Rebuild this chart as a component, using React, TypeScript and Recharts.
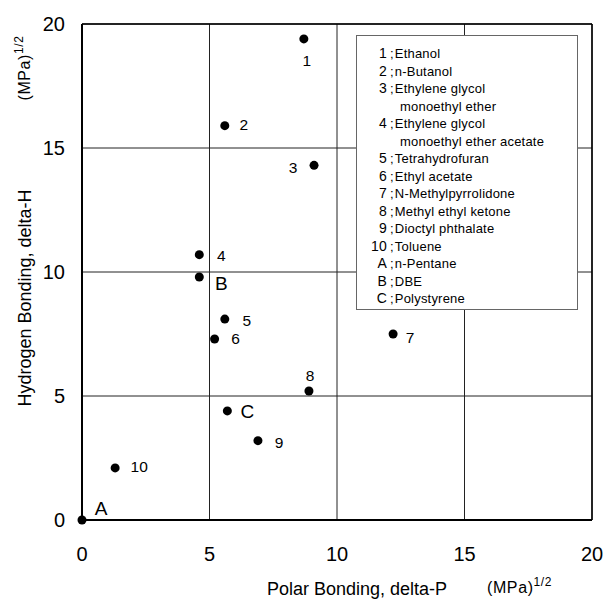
import React from 'react';
import { ScatterChart, Scatter, XAxis, YAxis, CartesianGrid, ReferenceLine, Legend, Label } from 'recharts';

// ---- data ----
const pointLabels = ['1', '2', '3', '4', 'B', '5', '6', '7', '8', 'C', '9', '10', 'A'];
const polarValues = [8.7, 5.6, 9.1, 4.6, 4.6, 5.6, 5.2, 12.2, 8.9, 5.7, 6.9, 1.3, 0];
const hydrogenValues = [19.4, 15.9, 14.3, 10.7, 9.8, 8.1, 7.3, 7.5, 5.2, 4.4, 3.2, 2.1, 0];
const axisTicks = [0, 5, 10, 15, 20];
const legendKeys = ['1', '2', '3', '4', '5', '6', '7', '8', '9', '10', 'A', 'B', 'C'];
const legendNames = [
  'Ethanol',
  'n-Butanol',
  'Ethylene glycol\nmonoethyl ether',
  'Ethylene glycol\nmonoethyl ether acetate',
  'Tetrahydrofuran',
  'Ethyl acetate',
  'N-Methylpyrrolidone',
  'Methyl ethyl ketone',
  'Dioctyl phthalate',
  'Toluene',
  'n-Pentane',
  'DBE',
  'Polystyrene',
];
const xAxisTitle = 'Polar Bonding, delta-P';
const yAxisTitle = 'Hydrogen Bonding, delta-H';
const unitBase = '(MPa)';
const unitSup = '1/2';

const points = pointLabels.map((label, i) => ({ label, x: polarValues[i], y: hydrogenValues[i] }));

// ---- styling ----
const FONT = '"Liberation Sans", Arial, sans-serif';
const labelPlacement: Record<string, { dx: number; dy: number }> = {
  '1': { dx: 3, dy: 22 },
  '2': { dx: 19, dy: -1 },
  '3': { dx: -21, dy: 2 },
  '4': { dx: 22, dy: 1 },
  B: { dx: 22, dy: 7 },
  '5': { dx: 22, dy: 1 },
  '6': { dx: 21, dy: 0 },
  '7': { dx: 17, dy: 3 },
  '8': { dx: 1, dy: -16 },
  C: { dx: 20, dy: 1 },
  '9': { dx: 21, dy: 2 },
  '10': { dx: 24, dy: -1 },
  A: { dx: 19, dy: -12 },
};

const PointShape = (props: any) => {
  const { cx, cy, payload } = props;
  const p = labelPlacement[payload.label] || { dx: 15, dy: 0 };
  const big = /^[A-C]$/.test(payload.label);
  return (
    <g>
      <circle cx={cx} cy={cy} r={4.5} fill="#000" />
      <text
        x={cx + p.dx}
        y={cy + p.dy}
        textAnchor="middle"
        dominantBaseline="central"
        fontSize={big ? 19 : 15.5}
        fontFamily={FONT}
        fill="#000"
      >
        {payload.label}
      </text>
    </g>
  );
};

const XTitle = (props: any) => {
  const vb = props.viewBox || { x: 82, y: 520, width: 510, height: 40 };
  const cx = vb.x + vb.width / 2 + 20;
  const base = vb.y + 75;
  return (
    <g fontFamily={FONT} fill="#000">
      <text x={cx} y={base} textAnchor="middle" fontSize={18}>
        {xAxisTitle}
      </text>
      <text x={vb.x + 405} y={base - 2} fontSize={16} letterSpacing={0.6}>
        {unitBase}
        <tspan fontSize={12} dy={-7}>{unitSup}</tspan>
      </text>
    </g>
  );
};

const YTitle = () => {
  const x = 25;
  const y = 298;
  const ux = 25;
  const uy = 68;
  return (
    <g fontFamily={FONT} fill="#000">
      <text
        x={x}
        y={y}
        textAnchor="middle"
        dominantBaseline="central"
        fontSize={18}
        transform={`rotate(-90, ${x}, ${y})`}
      >
        {yAxisTitle}
      </text>
      <text
        x={ux}
        y={uy + 5}
        textAnchor="middle"
        fontSize={16}
        letterSpacing={0.6}
        transform={`rotate(-90, ${ux}, ${uy})`}
      >
        {unitBase}
        <tspan fontSize={12} dy={-7}>{unitSup}</tspan>
      </text>
    </g>
  );
};

const LegendBox = () => (
  <div
    style={{
      width: 222,
      height: 275,
      border: '1px solid #666',
      background: '#fff',
      boxSizing: 'border-box',
      paddingTop: 9,
      fontFamily: FONT,
      fontSize: 13,
      letterSpacing: 0.2,
      color: '#000',
    }}
  >
    {legendKeys.map((k, i) =>
      legendNames[i].split('\n').map((line, j) => (
        <div key={k + '-' + j} style={{ height: 17.5, lineHeight: '17.5px', whiteSpace: 'nowrap' }}>
          {j === 0 ? (
            <>
              <span style={{ display: 'inline-block', width: 30, textAlign: 'right', fontSize: 14 }}>{k}</span>
              <span style={{ marginLeft: 3 }}>;</span>
              <span style={{ marginLeft: 1 }}>{line}</span>
            </>
          ) : (
            <span style={{ paddingLeft: 43 }}>{line}</span>
          )}
        </div>
      ))
    )}
  </div>
);

export default function App() {
  return (
    <div style={{ position: 'absolute', left: 0, top: 0, width: 606, height: 602, background: '#fff' }}>
      <ScatterChart width={606} height={602} margin={{ top: 24, right: 14, bottom: 42, left: 22 }}>
        <CartesianGrid stroke="#222" strokeWidth={1} />
        <XAxis
          type="number"
          dataKey="x"
          domain={[0, 20]}
          ticks={axisTicks}
          height={40}
          tickSize={0}
          tickMargin={27}
          tickLine={false}
          axisLine={{ stroke: '#000', strokeWidth: 2 }}
          tick={{ fontSize: 20, fill: '#000', fontFamily: FONT }}
        >
          <Label content={XTitle} />
        </XAxis>
        <YAxis
          type="number"
          dataKey="y"
          domain={[0, 20]}
          ticks={axisTicks}
          width={60}
          tickSize={0}
          tickMargin={17}
          tickLine={false}
          axisLine={{ stroke: '#000', strokeWidth: 2 }}
          tick={{ fontSize: 20, fill: '#000', fontFamily: FONT }}
        >
          <Label content={YTitle} />
        </YAxis>
        <ReferenceLine x={20} stroke="#000" strokeWidth={1.5} />
        <ReferenceLine y={20} stroke="#000" strokeWidth={1.5} />
        <Legend
          layout="vertical"
          align="center"
          verticalAlign="middle"
          content={LegendBox}
          wrapperStyle={{ left: 356, top: 35, width: 222, height: 275 }}
        />
        <Scatter data={points} shape={PointShape} isAnimationActive={false} />
      </ScatterChart>
    </div>
  );
}
